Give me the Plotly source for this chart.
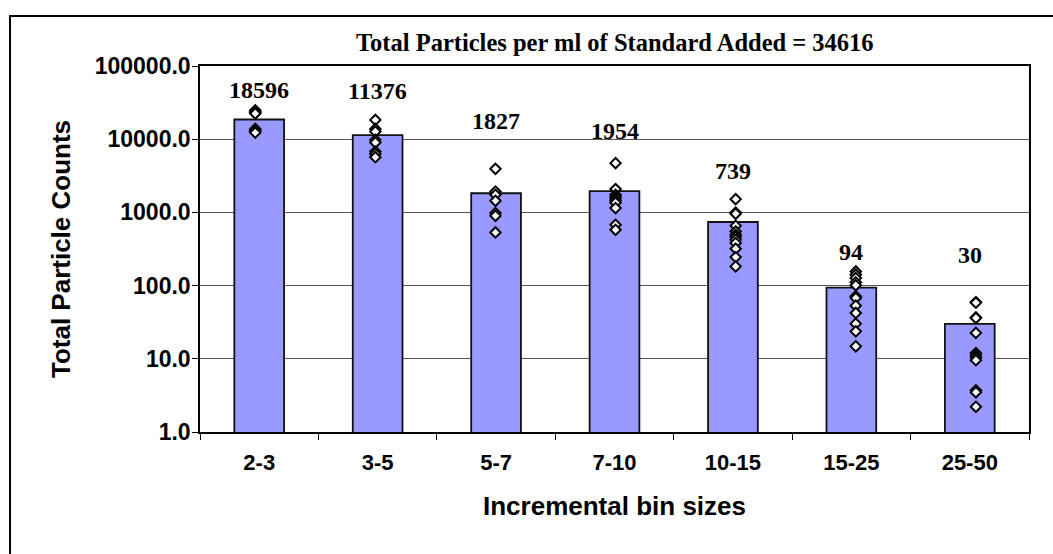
import math
import plotly.graph_objects as go

# Incremental particle-size bins (um)
bins = ["2-3", "3-5", "5-7", "7-10", "10-15", "15-25", "25-50"]

# Average total particle counts per bin (bar heights, also shown as labels)
mean_counts = [18596, 11376, 1827, 1954, 739, 94, 30]

# Individual replicate counts per bin (diamond markers)
rep_2_3 = [24800, 23800, 23000, 22400, 13800, 13200, 12700, 12300]
rep_3_5 = [18350, 13800, 12700, 9780, 8990, 6780, 6300, 5680]
rep_5_7 = [3935, 1928, 1738, 1440, 978, 899, 532]
rep_7_10 = [4710, 2080, 1738, 1633, 1534, 1440, 1352, 1145, 677, 579]
rep_10_15 = [1518, 997, 957, 656, 549, 495, 460, 423, 381, 319, 245, 183]
rep_15_25 = [156, 141, 127, 111, 101, 71.3, 67.8, 53.2, 42.3, 30.2, 23.7, 14.8]
rep_25_50 = [59.7, 58.5, 36.8, 36.0, 22.6, 12.0, 11.1, 10.3, 9.55, 3.72, 3.49, 2.21]
replicates = [rep_2_3, rep_3_5, rep_5_7, rep_7_10, rep_10_15, rep_15_25, rep_25_50]

standard_added = 34616

# Vertical lift (px) of each value label above its bar
label_lift = [29, 44, 72, 60, 51, 36, 69]

sans = "Liberation Sans, Arial, sans-serif"
serif = "Liberation Serif, Times New Roman, serif"

# plot area in pixels: 200..1029 horizontally, 66..432.5 vertically
plot_h = 366.5

fig = go.Figure()

fig.add_trace(go.Bar(
    x=bins,
    y=mean_counts,
    marker=dict(color="#9999FF", line=dict(color="#111111", width=1.8)),
    showlegend=False,
    hoverinfo="x+y",
))

rx, ry = [], []
for i, vals in enumerate(replicates):
    rx.extend([i] * len(vals))
    ry.extend(vals)

fig.add_trace(go.Scatter(
    x=rx,
    y=ry,
    xaxis="x2",
    mode="markers",
    marker=dict(symbol="diamond", size=8, color="white",
                line=dict(color="black", width=2)),
    showlegend=False,
))

annotations = []
for b, v, lift in zip(bins, mean_counts, label_lift):
    annotations.append(dict(
        x=b, y=math.log10(v), xref="x", yref="y",
        text=f"{v}", showarrow=False, yshift=lift,
        yanchor="middle",
        font=dict(family=serif, size=24, color="black", weight="bold"),
    ))

annotations.append(dict(
    x=0.5, xref="paper", y=(432.5 - 42) / plot_h, yref="paper",
    xanchor="center", yanchor="middle",
    text="Total Particles per ml of Standard Added = %d" % standard_added,
    showarrow=False,
    font=dict(family=serif, size=24.5, color="black", weight="bold"),
))

fig.update_layout(
    width=1053,
    height=554,
    margin=dict(l=200, r=24, t=66, b=121.5),
    paper_bgcolor="white",
    plot_bgcolor="white",
    bargap=0.58,
    annotations=annotations,
    shapes=[dict(
        type="rect", xref="paper", yref="paper",
        x0=(10 - 200) / 829, x1=1.2, y0=-0.5, y1=(432.5 - 16) / plot_h,
        line=dict(color="black", width=2), layer="below",
    )],
    xaxis=dict(
        type="category",
        showline=True, linecolor="black", linewidth=1.5, mirror=True,
        ticks="outside", tickson="boundaries", ticklen=6, tickcolor="black",
        tickfont=dict(family=sans, size=22, color="black", weight="bold"),
        ticklabelstandoff=10,
        title=dict(text="Incremental bin sizes", standoff=23,
                   font=dict(family=sans, size=26, color="black", weight="bold")),
        showgrid=False,
    ),
    xaxis2=dict(
        overlaying="x", range=[-0.46, 6.442], visible=False,
    ),
    yaxis=dict(
        type="log", range=[0, 5],
        tickvals=[1, 10, 100, 1000, 10000, 100000],
        ticktext=["1.0", "10.0", "100.0", "1000.0", "10000.0", "100000.0"],
        showline=True, linecolor="black", linewidth=1.5, mirror=True,
        ticks="outside", ticklen=6, tickcolor="black",
        tickfont=dict(family=sans, size=23, color="black", weight="bold"),
        ticklabelstandoff=-3,
        showgrid=True, gridcolor="#555555", gridwidth=1,
        title=dict(text="Total Particle Counts", standoff=17,
                   font=dict(family=sans, size=26, color="black", weight="bold")),
    ),
)

fig.write_html("out.html")
